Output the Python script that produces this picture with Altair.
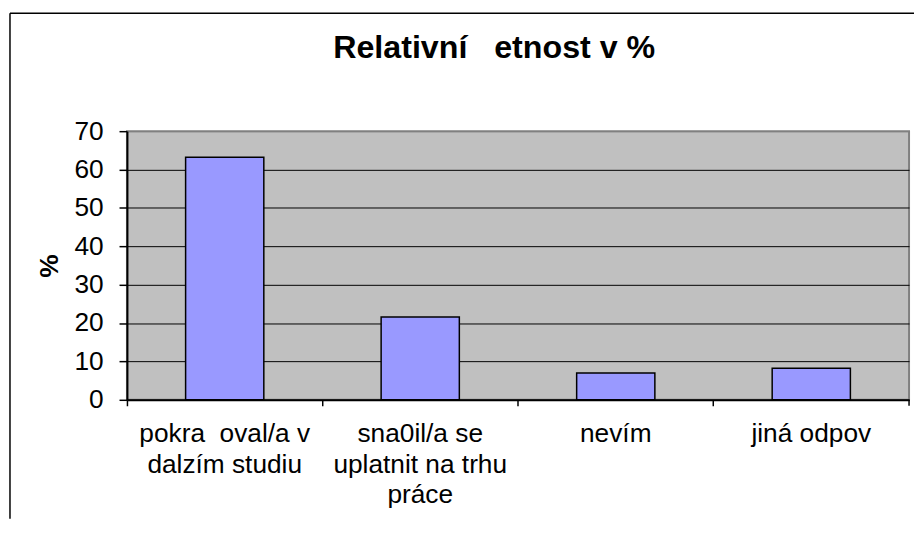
import altair as alt
import pandas as pd

# ---- data ----
label_lines = [
    ["pokra\u00a0\u00a0oval/a v", "dalzím studiu"],
    ["sna0il/a se", "uplatnit na trhu", "práce"],
    ["nevím"],
    ["jiná odpov"],
]
values = [63.2, 21.6, 7.0, 8.2]
y_ticks = [0, 10, 20, 30, 40, 50, 60, 70]
title_text = "Relativní\u00a0\u00a0\u00a0etnost v %"

categories = ["|".join(lines) for lines in label_lines]
df = pd.DataFrame({"kategorie": categories, "procenta": values})

FONT = "Liberation Sans"
FS = 26.5
W, H = 789, 271

bars = alt.Chart(df).mark_bar(
    width=alt.RelativeBandSize(0.4),
    color="#9999FF",
    stroke="black",
    strokeWidth=1.5,
).encode(
    x=alt.X(
        "kategorie:N",
        sort=None,
        scale=alt.Scale(paddingInner=0, paddingOuter=0),
        axis=alt.Axis(
            title=None,
            labelAngle=0,
            labelExpr="split(datum.label, '|')",
            labelFont=FONT,
            labelFontSize=FS,
            labelLineHeight=31,
            labelColor="black",
            labelPadding=15,
            labelLimit=400,
            labelOverlap=False,
            labelBaseline="top",
            bandPosition=0,
            tickSize=6,
            tickColor="black",
            tickWidth=1.5,
            domainColor="black",
            domainWidth=2,
            grid=False,
        ),
    ),
    y=alt.Y(
        "procenta:Q",
        scale=alt.Scale(domain=[0, 70], nice=False),
        axis=alt.Axis(
            title="%",
            titleFont=FONT,
            titleFontSize=FS,
            titleFontWeight="bold",
            titleColor="black",
            titlePadding=11,
            values=y_ticks,
            labelFont=FONT,
            labelFontSize=FS,
            labelColor="black",
            labelPadding=16,
            tickSize=8,
            tickColor="black",
            tickWidth=1.5,
            domainColor="black",
            domainWidth=2,
            grid=True,
            gridColor=alt.condition("datum.value == 70", alt.value("#808080"), alt.value("black")),
            gridWidth=1,
        ),
    ),
)

deco_df = pd.DataFrame({"f": [0]})
frame_left = alt.Chart(deco_df).mark_rule(color="black", strokeWidth=1.5).encode(
    x=alt.value(-118), y=alt.value(-119), y2=alt.value(391)
)
frame_top = alt.Chart(deco_df).mark_rule(color="black", strokeWidth=1.5).encode(
    x=alt.value(-118), x2=alt.value(800), y=alt.value(-119)
)
end_tick = alt.Chart(deco_df).mark_rule(color="black", strokeWidth=1.5).encode(
    x=alt.value(W), y=alt.value(H), y2=alt.value(H + 6)
)

chart = alt.layer(frame_left, frame_top, end_tick, bars).properties(
    width=W,
    height=H,
    autosize=alt.AutoSizeParams(type="none"),
    padding={"left": 120, "top": 122, "right": 5, "bottom": 120},
    background="white",
    title=alt.TitleParams(
        title_text,
        font=FONT,
        fontSize=32.5,
        fontWeight="bold",
        color="black",
        anchor="middle",
        dx=-24,
        offset=-52,
    ),
).configure_view(
    fill="#C0C0C0",
    stroke="#808080",
    strokeWidth=2,
)

chart.save("out.html", embed_options={"renderer": "svg", "actions": False})
